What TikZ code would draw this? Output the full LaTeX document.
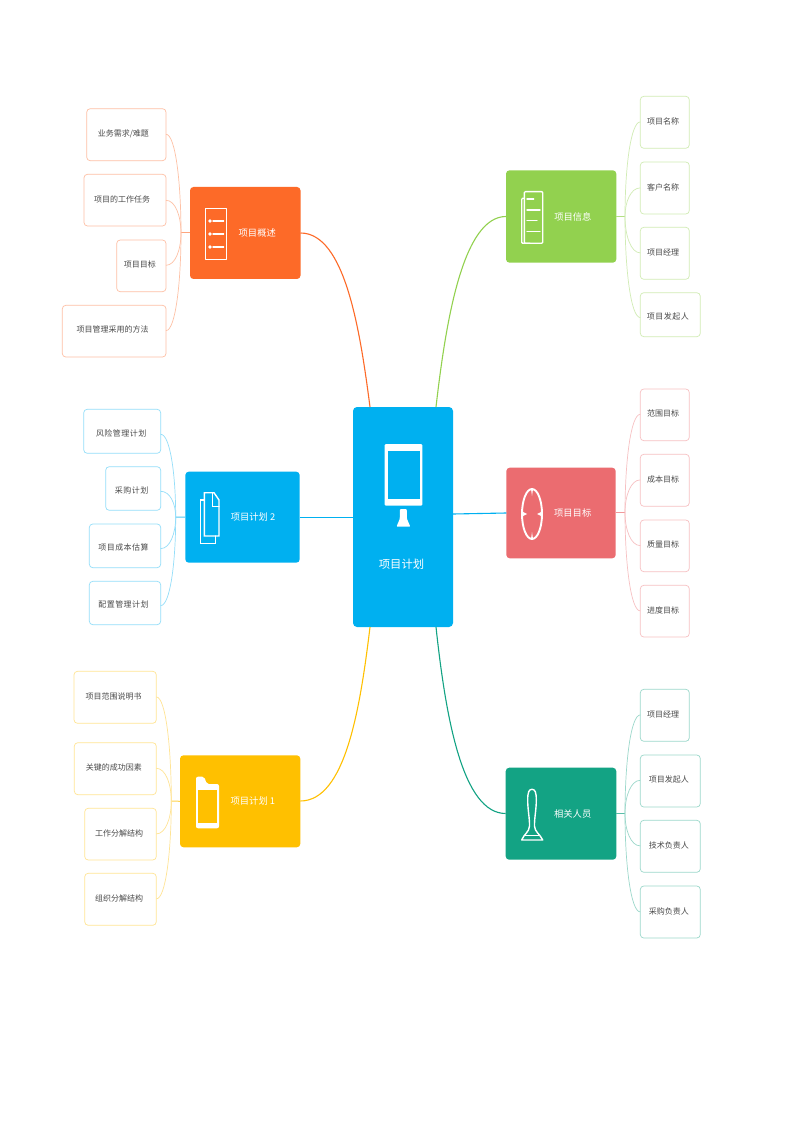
\documentclass[tikz,border=0pt]{standalone}
\usepackage{fontspec}
\usetikzlibrary{calc}
\setmainfont{Noto Sans CJK SC}
\newfontfamily\spacedcjk[LetterSpace=6]{Noto Sans CJK SC}
\definecolor{cOrange}{HTML}{FD6A28}
\definecolor{cGreen}{HTML}{92D14F}
\definecolor{cRed}{HTML}{EB6C70}
\definecolor{cTeal}{HTML}{13A384}
\definecolor{cYellow}{HTML}{FFC000}
\definecolor{cBlue}{HTML}{00B0F0}
\definecolor{cText}{HTML}{4A4A4A}
\tikzset{
  x=1pt,y=-1pt,
  leafbox/.style={rectangle,rounded corners=3.5pt,fill=white,line width=0.7pt,inner sep=0pt,outer sep=0pt,
    text=cText,font=\fontsize{8}{9}\selectfont,align=center},
  branchbox/.style={rectangle,rounded corners=3.5pt,inner sep=0pt,outer sep=0pt,text=white,
    font=\fontsize{9.3}{11}\selectfont},
  mainlink/.style={line width=1.1pt},
  leaflink/.style={line width=0.7pt},
  stublink/.style={line width=1pt},
  iconline/.style={white,line width=1.4pt,line cap=round,line join=round},
}
% name, colour, x0,y0,x1,y1, text centre y, shift to the left, text
\newcommand\leaf[9]{%
  \pgfmathsetmacro\lfW{#5-#3}\pgfmathsetmacro\lfH{#6-#4}%
  \pgfmathsetmacro\lfA{#7+2.9-#4}\pgfmathsetmacro\lfB{#6-#7-2.9}%
  \pgfmathsetmacro\lfCx{(#3+#5)/2}\pgfmathsetmacro\lfCy{(#4+#6)/2}%
  \pgfmathsetmacro\lfK{2*#8}%
  \node[leafbox,draw=#2!42!white,minimum width=\lfW pt,minimum height=\lfH pt,
        text height=\lfA pt,text depth=\lfB pt] (#1) at (\lfCx,\lfCy) {#9\kern\lfK pt};%
  \coordinate (#1e) at (#5,#7+0.6);\coordinate (#1w) at (#3,#7+0.6);%
}
% name, colour, x0,y0,x1,y1, shift to the right, text
\newcommand\branch[8]{%
  \pgfmathsetmacro\lfW{#5-#3}\pgfmathsetmacro\lfH{#6-#4}%
  \pgfmathsetmacro\lfCx{(#3+#5)/2}\pgfmathsetmacro\lfCy{(#4+#6)/2}%
  \pgfmathsetmacro\lfK{2*#7}%
  \node[branchbox,fill=#2,minimum width=\lfW pt,minimum height=\lfH pt] (#1) at (\lfCx,\lfCy) {\kern\lfK pt #8};%
}
% leaf point, trunk point, colour
\newcommand\twig[3]{%
  \draw[leaflink,#3!42!white] let \p1=(#1),\p2=(#2) in (#1)
    .. controls (\x1+0.62*\x2-0.62*\x1,\y1) and (\x2,\y1+0.48*\y2-0.48*\y1) .. (#2);%
}
\begin{document}
\begin{tikzpicture}
\useasboundingbox (0,0) rectangle (800,1131);
\fill[white] (0,0) rectangle (800,1131);

% centre
\node[branchbox,fill=cBlue,minimum width=100pt,minimum height=220pt,rounded corners=4pt] (centre) at (403,517) {};
\node[text=white,font=\fontsize{11.3}{13}\selectfont,inner sep=0pt] (centretext) at (401.5,564) {项目计划};

% branches
\branch{b1}{cOrange}{190}{187}{300.5}{279}{12}{项目概述}
\branch{b2}{cBlue}{185.3}{471.7}{299.7}{562.7}{10.5}{项目计划 2}
\branch{b3}{cYellow}{180}{755.3}{300.3}{847.3}{12.7}{项目计划 1}
\branch{b4}{cGreen}{506}{170.3}{616.3}{262.7}{11.7}{项目信息}
\branch{b5}{cRed}{506.3}{467.7}{615.7}{558.3}{11.7}{项目目标}
\branch{b6}{cTeal}{505.7}{767.7}{616.3}{859.7}{11.7}{相关人员}

% main connectors
\coordinate (c1) at (370,407);\coordinate (c4) at (436,407);
\coordinate (c3) at (370,627);\coordinate (c6) at (436,627);
\coordinate (b1p) at (300.5,233);\coordinate (b4p) at (506,216.5);
\coordinate (b3p) at (300.3,801);\coordinate (b6p) at (505.7,813.5);
\coordinate (c5) at (453,514);
\coordinate (b5p) at (506.3,513);
\draw[mainlink,cOrange] (b1p) .. controls (345,233) and (360,330) .. (c1);
\draw[mainlink,cGreen] (b4p) .. controls (463,216.5) and (446,320) .. (c4);
\draw[mainlink,cYellow] (b3p) .. controls (345,801) and (360,710) .. (c3);
\draw[mainlink,cTeal] (b6p) .. controls (463,813.5) and (446,720) .. (c6);
\draw[mainlink,cBlue] (b2.east) -- (b2.east -| centre.west);
\draw[mainlink,cBlue] (c5) -- (b5p);

% leaves: project overview
\leaf{a1}{cOrange}{86.7}{108.7}{166}{160.7}{133.7}{3}{业务需求/难题}
\leaf{a2}{cOrange}{84}{174.3}{166}{226}{199.7}{3}{项目的工作任务}
\leaf{a3}{cOrange}{116.7}{240}{166}{291.7}{264.7}{1.5}{项目目标}
\leaf{a4}{cOrange}{62.3}{305.3}{166}{357}{330}{1.5}{项目管理采用的方法}
\coordinate (t1) at (181,233);
\draw[stublink,cOrange!60!white] (b1.west) -- (t1);
\foreach \lfn in {a1,a2,a3,a4}{\twig{\lfn e}{t1}{cOrange}}

% leaves: plan 2
\leaf{d1}{cBlue}{83.7}{409.3}{160.7}{453.3}{433.7}{1}{{\spacedcjk 风险管理计划}}
\leaf{d2}{cBlue}{105.7}{466.7}{160.7}{510.3}{490.7}{1.5}{{\spacedcjk 采购计划}}
\leaf{d3}{cBlue}{89.3}{524}{160.7}{567.7}{548}{1.5}{{\spacedcjk 项目成本估算}}
\leaf{d4}{cBlue}{89.3}{581.3}{160.7}{624.7}{605}{1.5}{{\spacedcjk 配置管理计划}}
\coordinate (t2) at (175.7,517);
\draw[stublink,cBlue!70!white] (b2.west) -- (t2);
\foreach \lfn in {d1,d2,d3,d4}{\twig{\lfn e}{t2}{cBlue}}

% leaves: plan 1
\leaf{e1}{cYellow}{74}{671.3}{156.3}{723.3}{696.3}{1.5}{项目范围说明书}
\leaf{e2}{cYellow}{74.3}{742.7}{156.3}{794.7}{767.7}{1.5}{关键的成功因素}
\leaf{e3}{cYellow}{84.7}{808.3}{156.3}{860}{833.3}{1.5}{工作分解结构}
\leaf{e4}{cYellow}{84.7}{873.3}{156.3}{925.3}{898.3}{1.5}{组织分解结构}
\coordinate (t3) at (171.3,801);
\draw[stublink,cYellow!70!white] (b3.west) -- (t3);
\foreach \lfn in {e1,e2,e3,e4}{\twig{\lfn e}{t3}{cYellow}}

% leaves: project info
\leaf{f1}{cGreen}{640.3}{96.3}{689.3}{148.3}{121.3}{1.8}{项目名称}
\leaf{f2}{cGreen}{640.3}{162}{689.3}{214}{187.3}{1.8}{客户名称}
\leaf{f3}{cGreen}{640.3}{227.3}{689.3}{279.3}{252.3}{1.8}{项目经理}
\leaf{f4}{cGreen}{640.3}{292.7}{700.3}{336.7}{317}{2.5}{{\spacedcjk 项目发起人}}
\coordinate (t4) at (625,216.5);
\draw[stublink,cGreen!70!white] (b4.east |- t4) -- (t4);
\foreach \lfn in {f1,f2,f3,f4}{\twig{\lfn w}{t4}{cGreen}}

% leaves: project goals
\leaf{g1}{cRed}{640.3}{389}{689.3}{440.7}{413.7}{1.8}{范围目标}
\leaf{g2}{cRed}{640.3}{454.3}{689.3}{506.3}{479.3}{1.8}{成本目标}
\leaf{g3}{cRed}{640.3}{520}{689.3}{571.7}{545}{1.8}{质量目标}
\leaf{g4}{cRed}{640.3}{585.3}{689.3}{637}{610.3}{1.8}{进度目标}
\coordinate (t5) at (625,512.5);
\draw[stublink,cRed!70!white] (b5.east |- t5) -- (t5);
\foreach \lfn in {g1,g2,g3,g4}{\twig{\lfn w}{t5}{cRed}}

% leaves: stakeholders
\leaf{h1}{cTeal}{640.3}{689.3}{689.3}{741.3}{714.3}{1.8}{项目经理}
\leaf{h2}{cTeal}{640.3}{755}{700.3}{807}{779.7}{1.5}{项目发起人}
\leaf{h3}{cTeal}{640.3}{820.3}{700.3}{872.3}{845.3}{1.5}{技术负责人}
\leaf{h4}{cTeal}{640.3}{886}{700.3}{938}{911.3}{1.5}{采购负责人}
\coordinate (t6) at (625,813.5);
\draw[stublink,cTeal!70!white] (b6.east |- t6) -- (t6);
\foreach \lfn in {h1,h2,h3,h4}{\twig{\lfn w}{t6}{cTeal}}

% icon: centre tablet
\fill[white,rounded corners=1.2pt] (384.7,444) rectangle (422.3,505.7);
\fill[cBlue] (387.7,451) rectangle (419.7,498.7);
\fill[white,rounded corners=0.8pt] (400,509) -- (406.7,509) -- (407,519) -- (410.3,526.7) -- (396.5,526.7) -- (399.7,519) -- cycle;

% icon: overview list
\draw[iconline,line cap=butt] (205.7,208.7) rectangle (226.7,259.7);
\foreach \yy in {221,234,247}{
  \fill[white] (210,\yy) circle[radius=1.9];
  \draw[iconline] (213,\yy) -- (223.6,\yy);
}

% icon: info pages
\draw[iconline,rounded corners=1pt] (524.3,191.7) rectangle (542.7,243.3);
\draw[iconline,rounded corners=1pt] (524.3,198.3) -- (521.7,198.3) -- (521.7,243.3) -- (530,243.3);
\draw[iconline] (527,199) -- (533.7,199);
\draw[iconline] (527,210) -- (540,210);
\draw[iconline] (527,220.7) -- (537,220.7);
\draw[iconline] (527,231.3) -- (540,231.3);

% icon: goal dial
\draw[white,line width=1.9pt] (532,514) ellipse[x radius=10,y radius=25];
\fill[white] (531,489) -- (533,489) -- (532,496) -- cycle;
\fill[white] (531,539) -- (533,539) -- (532,532) -- cycle;
\fill[white] (522,511.5) -- (522,516.5) -- (527,514) -- cycle;
\fill[white] (542,511.5) -- (542,516.5) -- (537,514) -- cycle;

% icon: stakeholder figure
\draw[iconline] (527.7,800) .. controls (527.7,792) and (529,789.3) .. (532,789.3)
  .. controls (535,789.3) and (536.3,792) .. (536.3,800)
  .. controls (536.3,810) and (534.3,818) .. (534.5,826)
  .. controls (534.7,832) and (540,834) .. (542.7,840)
  -- (521.7,840)
  .. controls (524,834) and (529.3,832) .. (529.5,826)
  .. controls (529.7,818) and (527.7,810) .. (527.7,800) -- cycle;
\draw[iconline] (525,835.7) -- (539.3,835.7);

% icon: plan 2 documents
\draw[iconline,line join=miter] (204.3,492.7) -- (214,492.7) -- (219,500) -- (219,536) -- (204.3,536) -- cycle;
\draw[iconline,line join=miter] (212.3,493) -- (212.3,506.7) -- (219,506.7);
\draw[iconline,line join=miter] (204.3,500) -- (200.3,500) -- (200.3,543.7) -- (215.7,543.7) -- (215.7,536);

% icon: plan 1 folder
\fill[white,rounded corners=2pt] (196,776.7) -- (204.3,776.7) -- (206.7,784) -- (219,784) -- (219,828.3) -- (196,828.3) -- cycle;
\fill[cYellow] (198,789.7) rectangle (217.3,822.7);
\end{tikzpicture}
\end{document}
